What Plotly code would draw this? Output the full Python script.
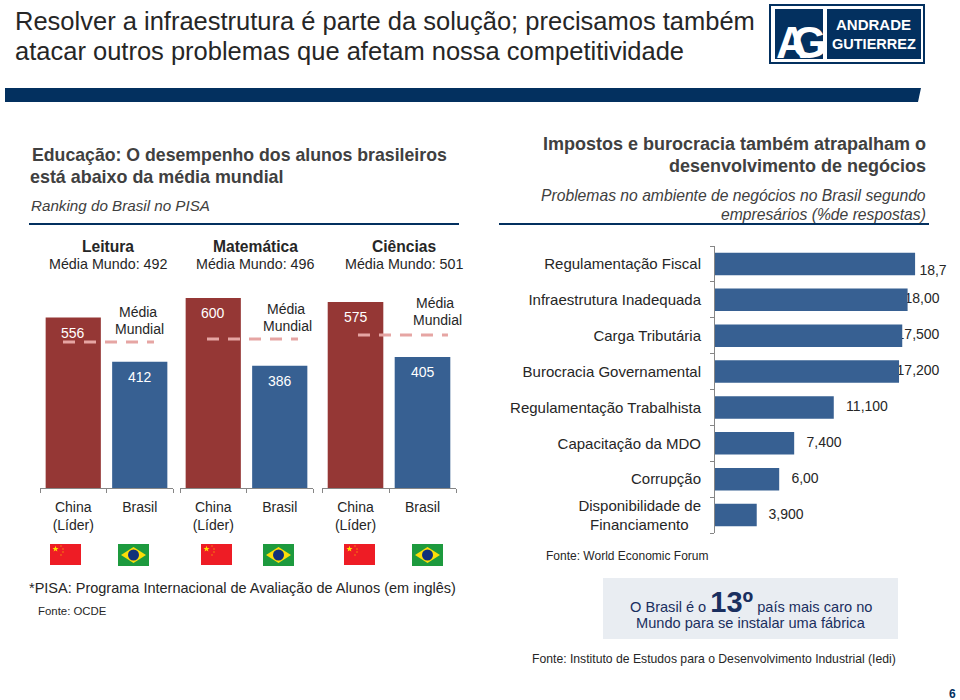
import math
import plotly.graph_objects as go

W, H = 960, 700
def px(x): return x / W
def py(y): return 1 - y / H

FONT = "Liberation Sans"
NAVY = "#03305F"
RED = "#953735"
BLUE = "#376092"
GREY = "#868686"
TXT = "#262626"

# ---------- data ----------
pisa_cats = ["China<br>(Líder)", "Brasil"]
leitura = [556, 412]
matematica = [600, 386]
ciencias = [575, 405]
pisa_panels = [leitura, matematica, ciencias]
media_line = [476, 471, 473]
pisa_titles = ["Leitura", "Matemática", "Ciências"]
pisa_means = ["Média Mundo: 492", "Média Mundo: 496", "Média Mundo: 501"]

prob_cats = ["Regulamentação Fiscal", "Infraestrutura Inadequada", "Carga Tributária",
             "Burocracia Governamental", "Regulamentação Trabalhista", "Capacitação da MDO",
             "Corrupção", "Disponibilidade de<br>Financiamento\u00a0\u00a0\u00a0"]
prob_vals = [18.7, 18.0, 17.5, 17.2, 11.1, 7.4, 6.0, 3.9]
prob_text = ["18,7", "18,00", "17,500", "17,200", "11,100", "7,400", "6,00", "3,900"]

# ---------- layout helpers (positions only) ----------
panel_px = [(40, 173), (180, 313), (322, 456)]
panel_scale = [0.3065, 0.3165, 0.3235]
BASE, TOP = 488, 290
line_ends = [(0.346, 1.714), (0.406, 1.774), (0.537, 1.88)]
label_x_px = [933, 922, 918, 918, 867, 824, 805, 786]
label_y_dy = [8, 0, 0, 0, 0, 0, 0, 0]
AX_L, AX_R, AX_T, AX_B = 715, 935, 246, 533
PROB_XMAX = (AX_R - AX_L) / 10.7
BAND = (AX_B - AX_T) / 8

fig = go.Figure()
layout = {}
annos = []
shapes = []

def note(text, x, y, size=14, color=TXT, anchor="left", bold=False, italic=False, family=FONT):
    if bold: text = f"<b>{text}</b>"
    if italic: text = f"<i>{text}</i>"
    annos.append(dict(text=text, x=px(x), y=py(y), xref="paper", yref="paper", showarrow=False,
                      xanchor=anchor, yanchor="middle", align=anchor, borderpad=0, borderwidth=0,
                      font=dict(family=family, size=size, color=color)))

# ---------- left panels ----------
for i, vals in enumerate(pisa_panels):
    n = i + 1
    xa, ya = f"x{n}", f"y{n}"
    x0, x1 = panel_px[i]
    ymax = (BASE - TOP) / panel_scale[i]
    fig.add_trace(go.Bar(x=[0.5, 1.5], y=vals, xaxis=xa, yaxis=ya, width=0.83,
                         marker=dict(color=[RED, BLUE], line=dict(width=0)),
                         hoverinfo="skip", showlegend=False))
    fig.add_trace(go.Scatter(x=list(line_ends[i]), y=[media_line[i]] * 2, xaxis=xa, yaxis=ya,
                             mode="lines", line=dict(color="#E6A5A3", width=3, dash="12px,9px"),
                             hoverinfo="skip", showlegend=False))
    layout[f"xaxis{n}"] = dict(domain=[px(x0), px(x1)], range=[0, 2], anchor=ya, fixedrange=True,
                               showgrid=False, zeroline=False, showline=True, linecolor=GREY, linewidth=1,
                               tickmode="array", tickvals=[0.5, 1.5], ticktext=pisa_cats, ticks="",
                               ticklabelstandoff=6, tickfont=dict(family=FONT, size=14, color=TXT),
                               minor=dict(tickmode="array", tickvals=[0, 1, 2], ticks="outside", ticklen=4,
                                          tickcolor=GREY, tickwidth=1, showgrid=False))
    layout[f"yaxis{n}"] = dict(domain=[py(BASE), py(TOP)], range=[0, ymax], anchor=xa, visible=False,
                               fixedrange=True)
    for xv, v in zip([0.5, 1.5], vals):
        annos.append(dict(text=str(v), x=xv, y=v, xref=xa, yref=ya, showarrow=False, yshift=-15,
                          xanchor="center", yanchor="middle",
                          font=dict(family=FONT, size=14, color="#FFFFFF")))

for xc, t, m in zip([108, 255, 404], pisa_titles, pisa_means):
    note(t, xc, 246, 15.6, TXT, "center", bold=True)
    note(m, xc, 264, 14.3, TXT, "center")
for xa, xb, ya, yb in [(138, 139, 312, 329), (286, 287, 309, 326), (435, 437, 303, 320)]:
    note("Média", xa, ya, 14, TXT, "center")
    note("Mundial", xb, yb, 14, TXT, "center")

# ---------- right chart ----------
lx = [(p - AX_L) / 10.7 for p in label_x_px]
ly = [k + 0.5 + d / BAND for k, d in enumerate(label_y_dy)]
fig.add_trace(go.Scatter(x=lx, y=ly, xaxis="x4", yaxis="y4", mode="text", text=prob_text, cliponaxis=False,
                         textposition="middle center", textfont=dict(family=FONT, size=14, color=TXT),
                         hoverinfo="skip", showlegend=False))
fig.add_trace(go.Bar(x=prob_vals, y=[k + 0.5 for k in range(8)], orientation="h", xaxis="x5", yaxis="y5",
                     width=0.63, marker=dict(color=BLUE, line=dict(width=0)),
                     hoverinfo="skip", showlegend=False))
xdom = [px(AX_L), px(AX_R)]
ydom = [py(AX_B), py(AX_T)]
layout["xaxis4"] = dict(domain=xdom, range=[0, PROB_XMAX], anchor="y4", visible=False, fixedrange=True)
layout["yaxis4"] = dict(domain=ydom, range=[8, 0], anchor="x4", visible=False, fixedrange=True)
layout["xaxis5"] = dict(domain=xdom, range=[0, PROB_XMAX], anchor="y5", visible=False, fixedrange=True)
layout["yaxis5"] = dict(domain=ydom, range=[8, 0], anchor="x5", fixedrange=True, showgrid=False, zeroline=False,
                        showline=True, linecolor=GREY, linewidth=1, tickmode="array",
                        tickvals=[k + 0.5 for k in range(8)], ticktext=prob_cats, ticks="",
                        ticklabelstandoff=10, tickfont=dict(family=FONT, size=15, color=TXT),
                        minor=dict(tickmode="array", tickvals=list(range(9)), ticks="outside", ticklen=4,
                                   tickcolor=GREY, tickwidth=1, showgrid=False))

# ---------- header ----------
note("Resolver a infraestrutura é parte da solução; precisamos também", 15, 21, 25.5, TXT)
note("atacar outros problemas que afetam nossa competitividade", 15, 51, 25.5, TXT)

def poly(pts, fill):
    d = "M" + " L".join(f"{px(a):.5f},{py(b):.5f}" for a, b in pts) + " Z"
    shapes.append(dict(type="path", path=d, xref="paper", yref="paper", fillcolor=fill,
                       line=dict(width=0), layer="above"))

def rect(x0, y0, x1, y1, fill, layer="above"):
    shapes.append(dict(type="rect", x0=px(x0), x1=px(x1), y0=py(y0), y1=py(y1), xref="paper", yref="paper",
                       fillcolor=fill, line=dict(width=0), layer=layer))

poly([(5, 88), (921, 88), (918, 102), (5, 102)], NAVY)

# logo
rect(769, 4, 925, 64, NAVY, "below")
rect(771, 6, 923, 62, "#FFFFFF", "below")
rect(775, 9, 823, 59, NAVY, "below")
rect(827, 9, 921, 59, NAVY, "below")
note("A", 792, 43, 44, "#FFFFFF", "center", bold=True)
note("G", 809, 43, 44, "#FFFFFF", "center", bold=True)
note("ANDRADE", 873, 25, 15, "#FFFFFF", "center", bold=True)
note("GUTIERREZ", 874, 44, 14.5, "#FFFFFF", "center", bold=True)

# section headers
note("Educação: O desempenho dos alunos brasileiros", 32, 155, 17.7, "#404040", bold=True)
note("está abaixo da média mundial", 30, 177, 17.9, "#404040", bold=True)
note("Ranking do Brasil no PISA", 31, 206, 15.2, "#404040", italic=True)
rect(29, 223, 459, 225, NAVY)
note("Impostos e burocracia também atrapalham o", 926, 144, 18, "#404040", "right", bold=True)
note("desenvolvimento de negócios", 926, 166, 18, "#404040", "right", bold=True)
note("Problemas no ambiente de negócios no Brasil segundo", 926, 195, 15.7, "#404040", "right", italic=True)
note("empresários (%de respostas)", 926, 214, 15.7, "#404040", "right", italic=True)
rect(499, 223, 929, 225, NAVY)

# flags
def china(x0):
    y0, y1 = 544, 565
    rect(x0, y0, x0 + 31, y1, "#EE1C25")
    cx, cy, r = x0 + 5.5, y0 + 5, 3.2
    pts = []
    for k in range(10):
        rr = r if k % 2 == 0 else r * 0.42
        a = -math.pi / 2 + k * math.pi / 5
        pts.append((cx + rr * math.cos(a), cy + rr * math.sin(a)))
    poly(pts, "#FFDE00")
    for dx, dy in [(11, 2), (13, 5), (13, 8), (11, 11)]:
        rect(x0 + dx - 0.6, y0 + dy - 0.6, x0 + dx + 0.6, y0 + dy + 0.6, "#F7B500")

def brazil(x0):
    y0, y1 = 544, 566
    rect(x0, y0, x0 + 31, y1, "#1D9A3E")
    cx, cy = x0 + 15.5, (y0 + y1) / 2
    poly([(x0 + 3, cy), (cx, y0 + 3), (x0 + 28, cy), (cx, y1 - 3)], "#FCDD09")
    shapes.append(dict(type="circle", x0=px(cx - 5.5), x1=px(cx + 5.5), y0=py(cy - 5.5), y1=py(cy + 5.5),
                       xref="paper", yref="paper", fillcolor="#10307A", line=dict(width=0), layer="above"))

for x in [50, 201, 344]:
    china(x)
for x in [118, 263, 412]:
    brazil(x)

# footers
note("Fonte: World Economic Forum", 546, 556, 12, TXT)
note("*PISA: Programa Internacional de Avaliação de Alunos (em inglês)", 29, 588, 14.5, TXT)
note("Fonte: OCDE", 38, 611, 11.4, TXT)
rect(603, 578, 898, 639, "#E9EDF2", "below")
note("O Brasil é o <span style='font-size:29px'><b>13º</b></span> país mais caro no", 751, 602, 14.6, "#1A2F5F", "center")
note("Mundo para se instalar uma fábrica", 751, 623, 14.6, "#1A2F5F", "center")
note("Fonte: Instituto de Estudos para o Desenvolvimento Industrial (Iedi)", 532, 659, 12.2, TXT)
note("6", 952, 694, 12, NAVY, "center", bold=True)

fig.update_layout(width=W, height=H, autosize=False, margin=dict(l=0, r=0, t=0, b=0),
                  paper_bgcolor="#FFFFFF", plot_bgcolor="rgba(0,0,0,0)", showlegend=False,
                  barmode="overlay", annotations=annos, shapes=shapes, **layout)
fig.write_html("out.html", config={"displayModeBar": False},
               post_script="document.body.style.margin='0';document.body.style.overflow='hidden';")
